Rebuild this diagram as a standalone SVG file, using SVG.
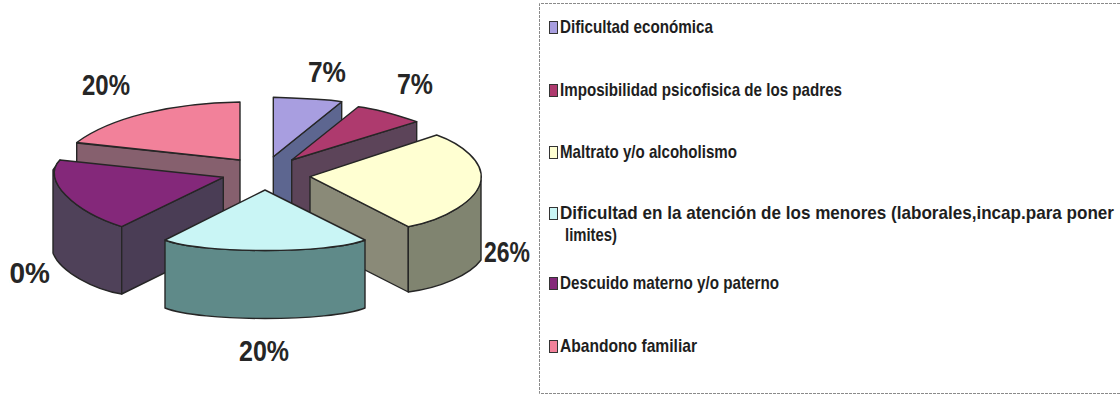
<svg xmlns="http://www.w3.org/2000/svg" width="1120" height="396" viewBox="0 0 1120 396">
<defs>
<style>
.edge{stroke:#262626;stroke-width:1.4;stroke-linejoin:round}
.pct{font-family:"Liberation Sans",Arial,sans-serif;font-weight:bold;font-size:29px;fill:#262626}
.lg{font-family:"Liberation Sans",Arial,sans-serif;font-weight:bold;font-size:19px;fill:#1e1e1e}
.mk{stroke:#333;stroke-width:1}
</style>
<clipPath id="chartclip"><rect x="9" y="0" width="520" height="396"/></clipPath>
</defs>
<rect width="1120" height="396" fill="#ffffff"/>

<g id="slice-abandono">
<path class="edge" fill="#86606e" d="M76.7,143 L240,160 L240,225 L76.7,208 Z"/>
<path class="edge" fill="#f2819a" d="M240,160 L240,102 C170,103 110,118 76.7,142.5 Z"/>
</g>

<g id="slice-dificultad-economica">
<path class="edge" fill="#5d6690" d="M341.7,101.7 L273.3,156.7 L273.3,222 L341.7,167 Z"/>
<path class="edge" fill="#a89ee0" d="M273.3,156.7 L273.3,97.3 C295,98 325,99 341.7,101.7 Z"/>
</g>

<g id="slice-imposibilidad">
<path class="edge" fill="#5c4459" d="M416.7,121.7 L291.7,160 L291.7,225 L416.7,187 Z"/>
<path class="edge" fill="#ae3a6e" d="M291.7,160 L358.3,106.7 C378,109 400,116 416.7,121.7 Z"/>
</g>

<g id="slice-maltrato">
<path class="edge" fill="#8a8a78" d="M310,176.7 L408.3,226.7 L408.3,292 L310,242 Z"/>
<path class="edge" fill="#808470" d="M408.3,226.7 C445,220 478,200 481,180 L481,260 C470,275 440,288 408.3,292 Z"/>
<path class="edge" fill="#ffffd2" d="M310,176.7 L436.7,135 C462,144 484,162 481,180 C478,200 445,220 408.3,226.7 Z"/>
</g>

<g id="slice-descuido">
<path class="edge" fill="#4f4159" d="M60,160 C40,180 75,212 121.7,226.7 L121.7,294 C95,290 60,272 53,253 L53,170 Z"/>
<path class="edge" fill="#4a3d55" d="M223.3,177.3 L121.7,226.7 L121.7,294 L223.3,244 Z"/>
<path class="edge" fill="#84287a" d="M223.3,177.3 L60,160 C40,180 75,212 121.7,226.7 Z"/>
</g>

<g id="slice-atencion">
<path class="edge" fill="#5f8a89" d="M165,240 C200,254 330,254 365,240 L365,308 C330,322 200,322 165,308 Z"/>
<path class="edge" fill="#c9f5f5" d="M265,190 L365,240 C330,254 200,254 165,240 Z"/>
</g>

<g id="labels">
<text class="pct" x="308" y="82" textLength="38" lengthAdjust="spacingAndGlyphs">7%</text>
<text class="pct" x="397" y="94" textLength="36" lengthAdjust="spacingAndGlyphs">7%</text>
<text class="pct" x="82" y="95" textLength="48" lengthAdjust="spacingAndGlyphs">20%</text>
<text class="pct" x="484" y="262" textLength="46" lengthAdjust="spacingAndGlyphs">26%</text>
<text class="pct" x="239" y="361" textLength="50" lengthAdjust="spacingAndGlyphs">20%</text>
<text class="pct" x="-6" y="283" textLength="56" lengthAdjust="spacingAndGlyphs" clip-path="url(#chartclip)">20%</text>
</g>

<g id="legend">
<path d="M1120,3.5 H539.5 V393.5 H1120" fill="none" stroke="#8a8a8a" stroke-width="1" stroke-dasharray="3 1"/>
<g id="legend-1">
<rect class="mk" x="549.5" y="21.5" width="8" height="12" fill="#a89ee0"/>
<text class="lg" x="560" y="33" textLength="153" lengthAdjust="spacingAndGlyphs">Dificultad económica</text>
</g>
<g id="legend-2">
<rect class="mk" x="549.5" y="84.5" width="8" height="12" fill="#ae3a6e"/>
<text class="lg" x="560" y="96" textLength="282" lengthAdjust="spacingAndGlyphs">Imposibilidad psicofisica de los padres</text>
</g>
<g id="legend-3">
<rect class="mk" x="549.5" y="146.5" width="8" height="12" fill="#ffffd2"/>
<text class="lg" x="560" y="158" textLength="177" lengthAdjust="spacingAndGlyphs">Maltrato y/o alcoholismo</text>
</g>
<g id="legend-4">
<rect class="mk" x="549.5" y="207.5" width="8" height="12" fill="#c9f5f5"/>
<text class="lg" x="560" y="219" textLength="554" lengthAdjust="spacingAndGlyphs">Dificultad en la atención de los menores (laborales,incap.para poner</text>
<text class="lg" x="565" y="241" textLength="52" lengthAdjust="spacingAndGlyphs">limites)</text>
</g>
<g id="legend-5">
<rect class="mk" x="549.5" y="277.5" width="8" height="12" fill="#84287a"/>
<text class="lg" x="560" y="289" textLength="219" lengthAdjust="spacingAndGlyphs">Descuido materno y/o paterno</text>
</g>
<g id="legend-6">
<rect class="mk" x="549.5" y="340.5" width="8" height="12" fill="#f2819a"/>
<text class="lg" x="560" y="352" textLength="137" lengthAdjust="spacingAndGlyphs">Abandono familiar</text>
</g>
</g>
</svg>
